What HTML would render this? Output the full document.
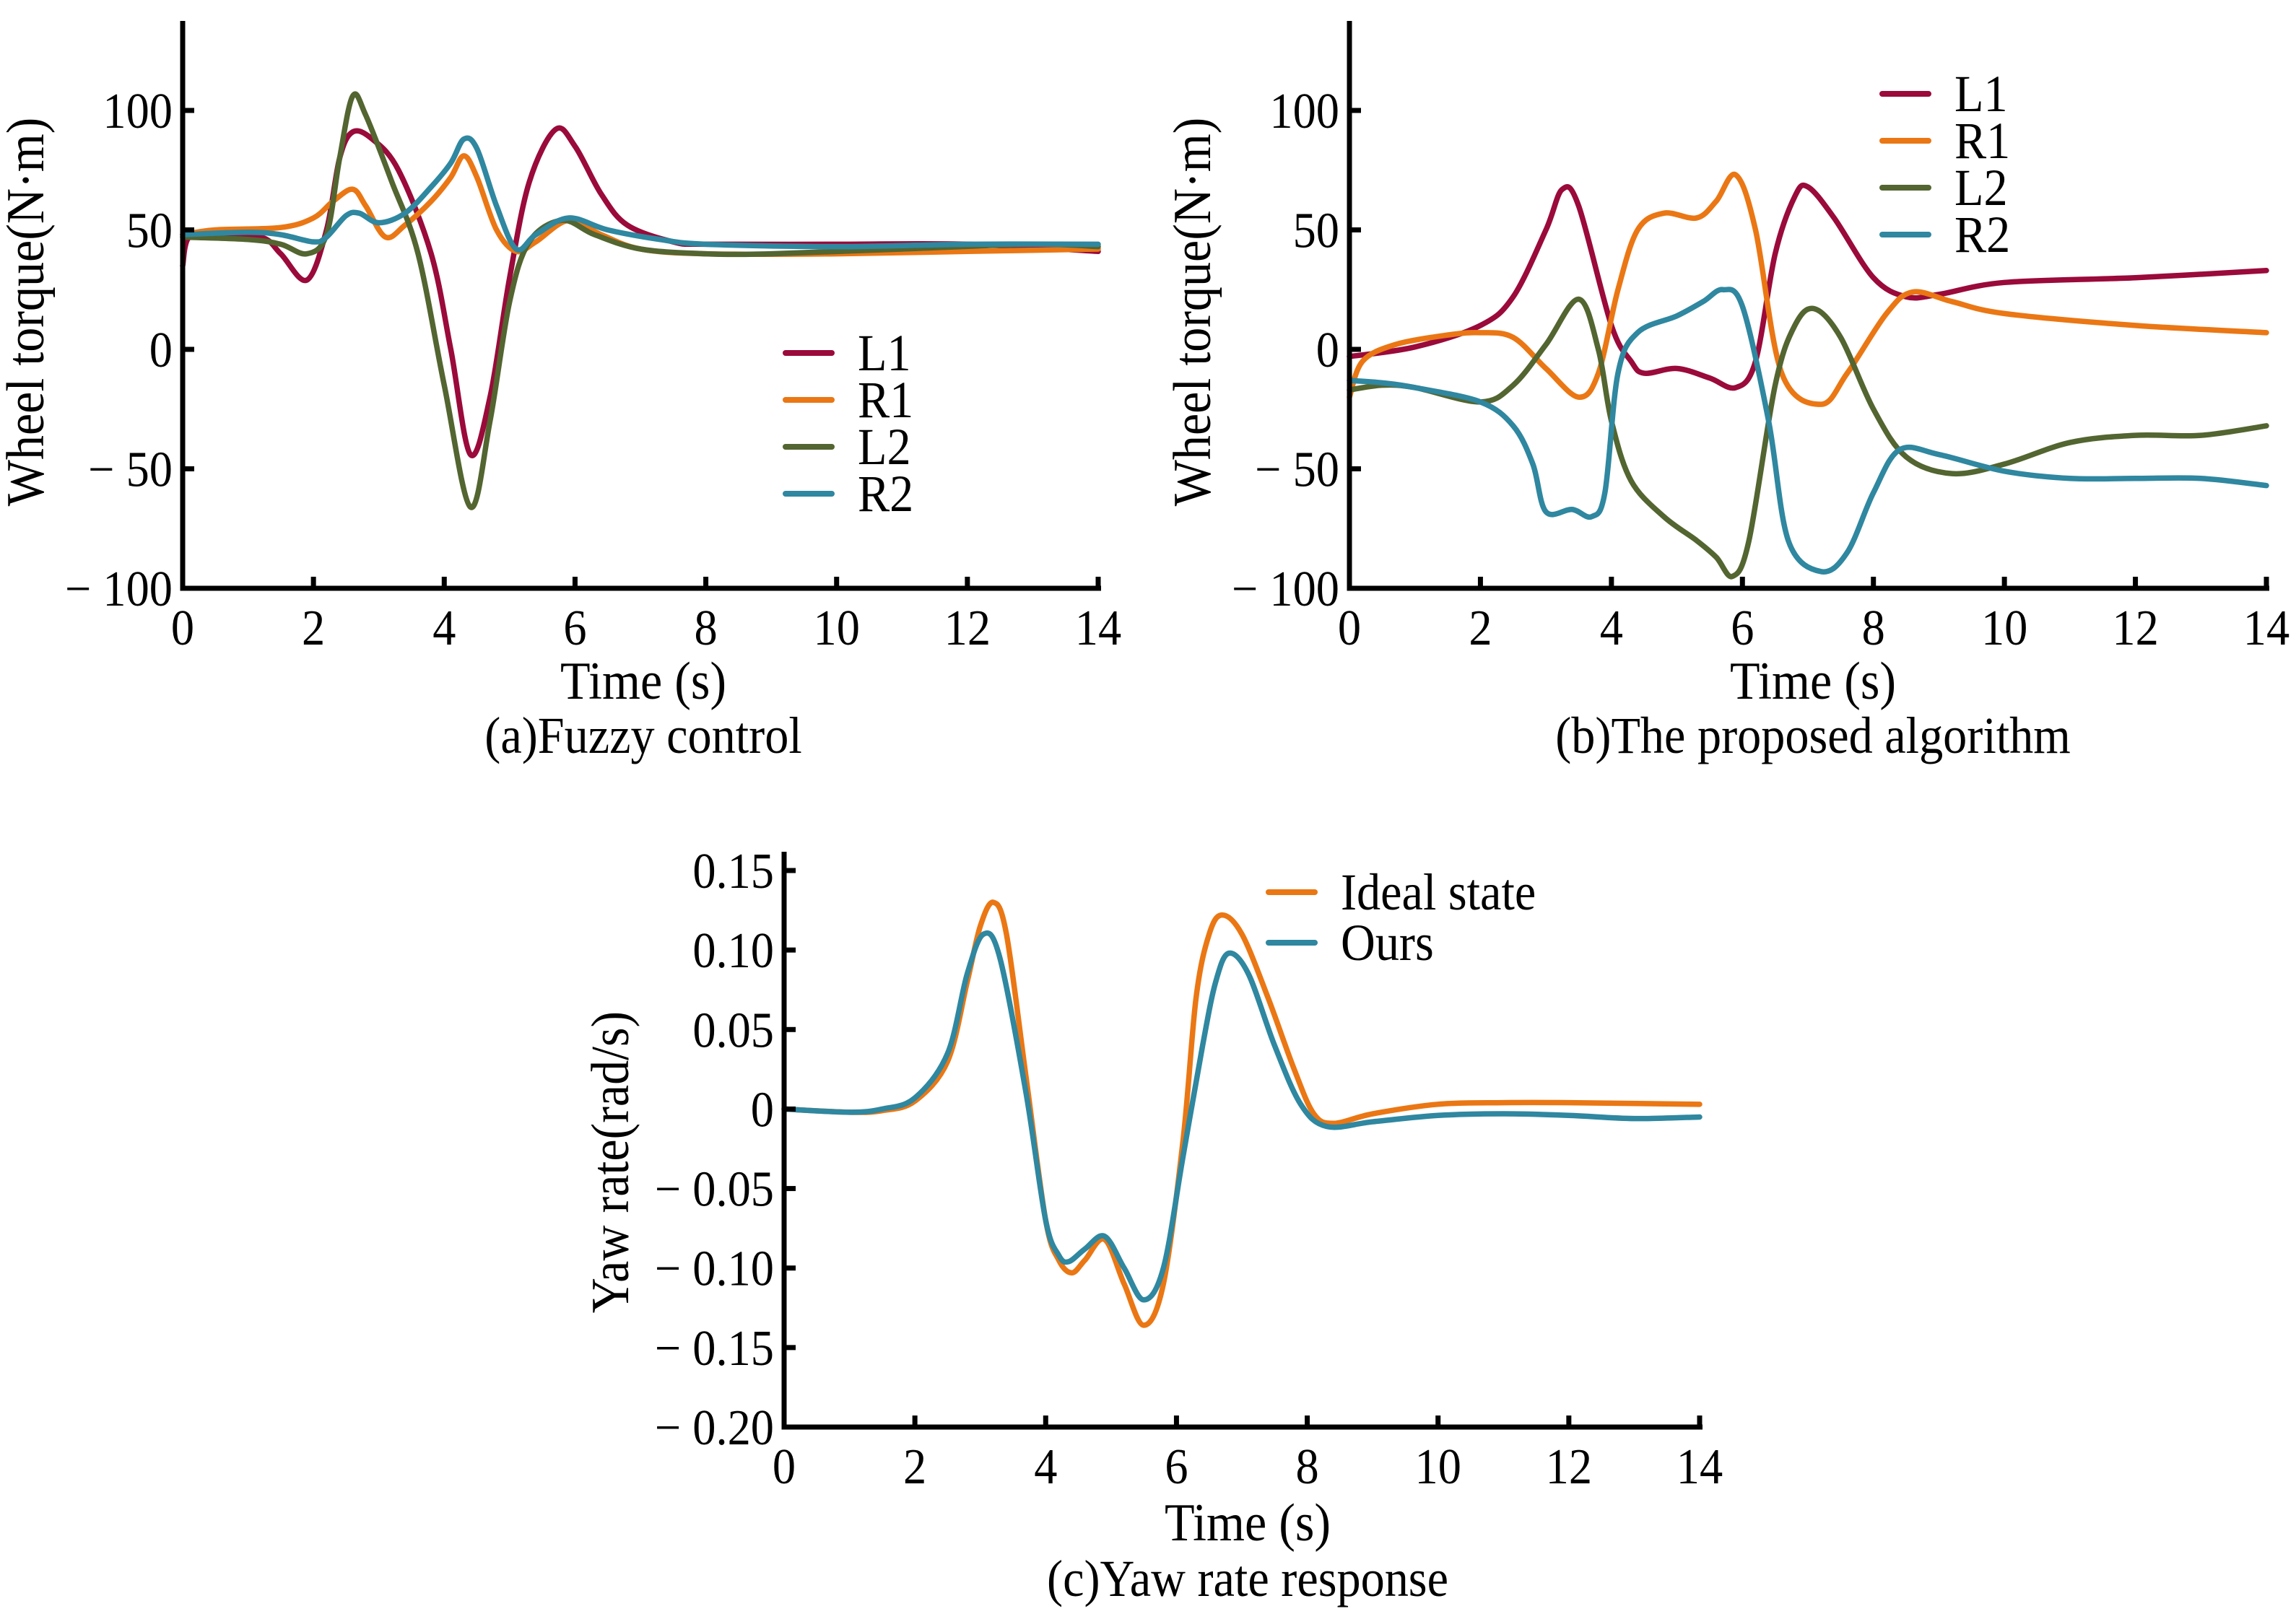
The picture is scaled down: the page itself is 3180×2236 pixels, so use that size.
<!DOCTYPE html>
<html><head><meta charset="utf-8"><style>
html,body{margin:0;padding:0;background:#fff}
svg{display:block}
text{font-family:"Liberation Serif",serif;fill:#000}
</style></head><body>
<svg id="fig" width="3180" height="2236" viewBox="0 0 3180 2236" xmlns="http://www.w3.org/2000/svg"></svg>
<script>
// ---- Data ----
const xTicks = [0,2,4,6,8,10,12,14];
const torqueTicks = [100,50,0,-50,-100];
const torqueTickLabels = ["100","50","0","− 50","− 100"];
const yawTicks = [0.15,0.10,0.05,0,-0.05,-0.10,-0.15,-0.20];
const yawTickLabels = ["0.15","0.10","0.05","0","− 0.05","− 0.10","− 0.15","− 0.20"];

const aL1t=[0,0.1,0.5,1.2,1.5,1.9,2.2,2.4,2.6,2.9,3.3,3.8,4.1,4.4,4.7,5.0,5.3,5.7,6.0,6.4,6.8,7.5,8,10,12,14];
const aL1v=[35,47,48,47,40,29,50,80,91,88,75,40,0,-44,-20,30,70,92,85,65,52,45,44,44,44,41];
const aR1t=[0,0.5,1.5,2.0,2.3,2.6,2.8,3.1,3.4,3.8,4.1,4.3,4.5,4.8,5.1,5.4,5.9,6.4,7,8,10,12,14];
const aR1v=[48,50,51,55,62,67,60,47,52,62,72,81,72,50,41,45,54,48,42,40,40,41,42];
const aL2t=[0,1,1.5,1.9,2.2,2.4,2.6,2.8,3.2,3.6,4.0,4.4,4.7,5.0,5.3,5.8,6.3,7,8,9,11,13,14];
const aL2v=[47,46,44,40,48,80,106,98,70,40,-15,-66,-30,20,45,54,48,42,40,40,42,44,43];
const aR2t=[0,1,1.5,2.0,2.2,2.5,2.7,3.0,3.4,3.8,4.1,4.3,4.5,4.8,5.1,5.4,5.9,6.5,7.3,8,10,12,14];
const aR2v=[48,49,48,45,47,56,57,53,57,68,78,88,84,60,42,48,55,50,46,44,43,44,44];

const bL1t=[0,1,2,2.5,3,3.25,3.5,4,4.3,4.5,5,5.5,5.9,6.2,6.5,6.8,7.0,7.4,8,8.5,9,10,12,14];
const bL1v=[-3,1,10,22,50,67,60,10,-5,-10,-8,-12,-16,-5,40,64,68,55,30,22,23,28,30,33];
const bR1t=[0,0.2,0.7,1.5,2,2.5,3,3.5,3.8,4.1,4.4,4.8,5.3,5.6,5.9,6.2,6.6,7.2,7.6,8.2,8.6,9.2,10,12,14];
const bR1v=[-20,-5,2,6,7,5,-8,-20,-10,25,50,57,55,62,73,50,-10,-23,-10,15,24,20,15,10,7];
const bL2t=[0,0.5,1,2,2.5,3,3.5,3.8,4.0,4.3,4.8,5.3,5.6,5.85,6.1,6.5,6.8,7.1,7.5,8,8.5,9.2,10,11,12,13,14];
const bL2v=[-17,-15,-16,-22,-15,2,21,0,-30,-55,-70,-80,-87,-95,-80,-15,10,17,5,-25,-45,-52,-48,-39,-36,-36,-32];
const bR2t=[0,0.5,1,2,2.5,2.8,3.0,3.4,3.7,3.9,4.1,4.4,5,5.4,5.7,6,6.4,6.7,7.2,7.6,8,8.4,9,10,11,12,13,14];
const bR2v=[-13,-14,-16,-22,-32,-48,-68,-67,-70,-60,-10,7,14,20,25,18,-30,-80,-93,-85,-60,-42,-44,-51,-54,-54,-54,-57];

const cIdealT=[0,1,1.5,2,2.5,2.8,3.0,3.2,3.4,3.7,4,4.2,4.4,4.6,4.9,5.2,5.5,5.8,6.1,6.3,6.5,6.7,7,7.4,7.8,8.1,8.4,9,10,11,12,14];
const cIdealV=[0,-0.002,-0.001,0.005,0.03,0.08,0.115,0.13,0.11,0.02,-0.07,-0.095,-0.103,-0.095,-0.082,-0.11,-0.136,-0.11,-0.02,0.07,0.11,0.122,0.11,0.07,0.025,-0.003,-0.009,-0.003,0.003,0.004,0.004,0.003];
const cOursT=[0,1,1.5,2,2.5,2.8,3.05,3.3,3.7,4,4.2,4.35,4.6,4.9,5.2,5.5,5.8,6.1,6.4,6.6,6.8,7.1,7.5,7.9,8.3,9,10,11,12,13,14];
const cOursV=[0,-0.002,0,0.007,0.035,0.085,0.11,0.095,0.01,-0.07,-0.092,-0.096,-0.088,-0.08,-0.1,-0.12,-0.1,-0.03,0.04,0.08,0.098,0.085,0.04,0.003,-0.011,-0.008,-0.004,-0.003,-0.004,-0.006,-0.005];

const COL={L1:"#9a0a3a",R1:"#ea7714",L2:"#536530",R2:"#2f87a0"};
const NS="http://www.w3.org/2000/svg";
const svg=document.getElementById('fig');

function el(tag,attrs,parent){const e=document.createElementNS(NS,tag);for(const k in attrs)e.setAttribute(k,attrs[k]);(parent||svg).appendChild(e);return e;}
function txt(str,x,y,size,anchor,parent,rot){
  const t=el('text',{x:0,y:0,'font-size':size,'text-anchor':anchor,transform:`translate(${x},${y}) ${rot?'rotate(-90)':''} scale(0.92,1)`},parent);
  t.textContent=str;return t;
}
function spline(pts){
  let d=`M${pts[0][0]},${pts[0][1]}`;
  for(let i=0;i<pts.length-1;i++){
    const p0=pts[i-1]||pts[i],p1=pts[i],p2=pts[i+1],p3=pts[i+2]||p2;
    const c1=[p1[0]+(p2[0]-p0[0])/6,p1[1]+(p2[1]-p0[1])/6];
    const c2=[p2[0]-(p3[0]-p1[0])/6,p2[1]-(p3[1]-p1[1])/6];
    d+=`C${c1[0]},${c1[1]} ${c2[0]},${c2[1]} ${p2[0]},${p2[1]}`;
  }
  return d;
}
function panel(cfg){
  const g=el('g',{});
  
  
  const sx=t=>cfg.x0+(t-0)/14*(cfg.x1-cfg.x0);
  const sy=v=>cfg.yb+(v-cfg.vmin)/(cfg.vmax-cfg.vmin)*(cfg.yt-cfg.yb);
  cfg.series.forEach(s=>{
    const pts=s.t.map((t,i)=>[sx(t),sy(s.v[i])]);
    const p=el('path',{d:spline(pts),fill:'none',stroke:s.c,'stroke-width':7.5,'stroke-linejoin':'round','stroke-linecap':'round'},g);
    
    
  });
  const ax=el('path',{d:`M${cfg.x0},${cfg.top} L${cfg.x0},${cfg.yb} L${cfg.x1+4},${cfg.yb}`,fill:'none',stroke:'#000','stroke-width':7},g);
  
  
  xTicks.forEach(t=>{
    el('line',{x1:sx(t),x2:sx(t),y1:cfg.yb,y2:cfg.yb-16,stroke:'#000','stroke-width':7},g);
    const l=txt(String(t),sx(t),cfg.yb+78,70,'middle',g);
    
    
  });
  cfg.ticks.forEach((v,i)=>{
    el('line',{x1:cfg.x0,x2:cfg.x0+16,y1:sy(v),y2:sy(v),stroke:'#000','stroke-width':7},g);
    const l=txt(cfg.tickLabels[i],cfg.x0-14,sy(v)+24,70,'end',g);
    
    
  });
  const xt=txt('Time (s)',cfg.xtX,cfg.xtY,74,'middle',g);
  
  
  const yt=txt(cfg.ytitle,cfg.ytX,cfg.ytY,74,'middle',g,true);
  
  
  const cp=txt(cfg.caption,cfg.xtX,cfg.capY,72,'middle',g);
  
  
  cfg.series.forEach((s,i)=>{
    const y=cfg.legY+i*cfg.legDy;
    const lg=el('g',{},g);
    
    
    el('line',{x1:cfg.legX,x2:cfg.legX+64,y1:y,y2:y,stroke:s.c,'stroke-width':8,'stroke-linecap':'round'},lg);
    txt(s.n,cfg.legX+100,y+24,72,'start',lg);
  });
}
panel({name:'chart-a-fuzzy-control',x0:253,x1:1521,yt:153,yb:815,top:29,vmin:-100,vmax:100,
  ticks:torqueTicks,tickLabels:torqueTickLabels,ytitle:'Wheel torque(N·m)',ytX:60,ytY:432,
  xtX:891,xtY:968,capY:1043,caption:'(a)Fuzzy control',legX:1088,legY:489,legDy:65,
  series:[{n:'L1',t:aL1t,v:aL1v,c:COL.L1},{n:'R1',t:aR1t,v:aR1v,c:COL.R1},{n:'L2',t:aL2t,v:aL2v,c:COL.L2},{n:'R2',t:aR2t,v:aR2v,c:COL.R2}]});
panel({name:'chart-b-proposed-algorithm',x0:1869,x1:3139,yt:153,yb:815,top:29,vmin:-100,vmax:100,
  ticks:torqueTicks,tickLabels:torqueTickLabels,ytitle:'Wheel torque(N·m)',ytX:1676,ytY:432,
  xtX:2511,xtY:968,capY:1043,caption:'(b)The proposed algorithm',legX:2607,legY:130,legDy:65,
  series:[{n:'L1',t:bL1t,v:bL1v,c:COL.L1},{n:'R1',t:bR1t,v:bR1v,c:COL.R1},{n:'L2',t:bL2t,v:bL2v,c:COL.L2},{n:'R2',t:bR2t,v:bR2v,c:COL.R2}]});
panel({name:'chart-c-yaw-rate',x0:1086,x1:2354,yt:1206,yb:1977,top:1180,vmin:-0.20,vmax:0.15,
  ticks:yawTicks,tickLabels:yawTickLabels,ytitle:'Yaw rate(rad/s)',ytX:870,ytY:1610,
  xtX:1728,xtY:2134,capY:2211,caption:'(c)Yaw rate response',legX:1757,legY:1236,legDy:70,
  series:[{n:'Ideal state',t:cIdealT,v:cIdealV,c:COL.R1},{n:'Ours',t:cOursT,v:cOursV,c:COL.R2}]});
</script>
</body></html>
